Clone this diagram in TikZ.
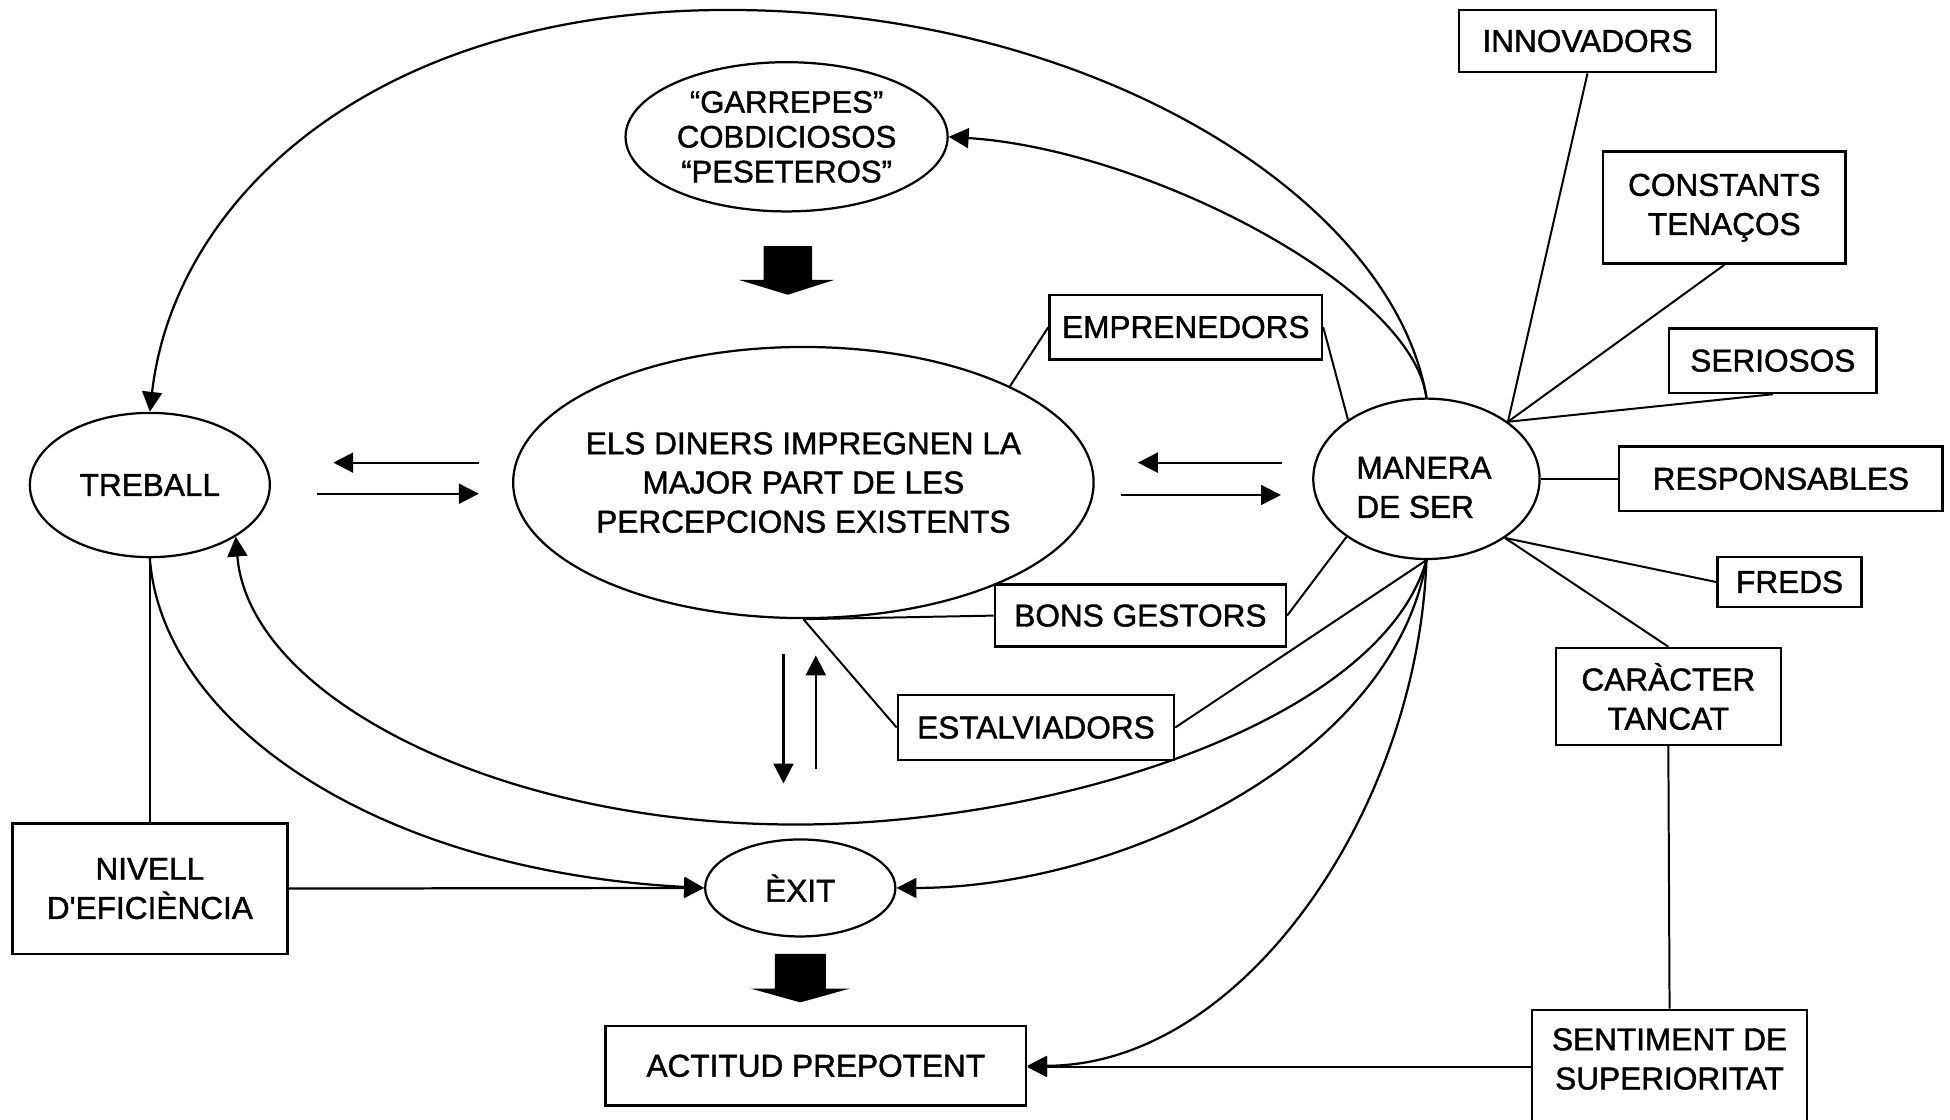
\documentclass[tikz,border=0pt]{standalone}
\usepackage{fontspec}
\setmainfont{Liberation Sans}[FakeBold=1.3]
\usetikzlibrary{arrows.meta,shapes.geometric}
\begin{document}
\begin{tikzpicture}[x=0.5pt,y=-0.5pt,
  every node/.style={font=\fontsize{12.7pt}{15.75pt}\selectfont, inner sep=0pt, align=center},
  ell/.style={draw, ellipse, line width=0.9pt},
  bx/.style={draw, rectangle, line width=1pt},
  ln/.style={line width=0.8pt},
  arr/.style={line width=0.9pt, -{Triangle[length=8pt,width=8pt]}},
  fat/.style={fill=black, draw=none}
]
\useasboundingbox (0,0) rectangle (1568,900);
\clip (0,0) rectangle (1568,900);
\fill[white] (0,0) rectangle (1568,900);

% ellipses
\node[ell, minimum width=129.5pt, minimum height=60pt, font=\fontsize{12.5pt}{14pt}\selectfont] (garr) at (632.5,110) {“GARREPES”\\COBDICIOSOS\\“PESETEROS”};
\node[ell, inner xsep=-5pt, minimum width=233pt, minimum height=109pt] (dn) at (646,388) {ELS DINERS IMPREGNEN LA\\MAJOR PART DE LES\\PERCEPCIONS EXISTENTS};
\node[ell, minimum width=96.5pt, minimum height=58pt] (treb) at (120.5,390) {TREBALL};
\node[ell, minimum width=91pt, minimum height=64.5pt] (man) at (1147,385) {};
\node[align=left] (mantxt) at (1145,392) {MANERA\\DE SER};
\node[ell, minimum width=76.5pt, minimum height=39pt] (exit) at (643.5,714) {ÈXIT};

% boxes
\node[bx, minimum width=103.5pt, minimum height=25pt] (innov) at (1276.5,33) {INNOVADORS};
\node[bx, minimum width=97.5pt, minimum height=45pt] (const) at (1386.5,167) {CONSTANTS\\TENAÇOS};
\node[bx, minimum width=83.5pt, minimum height=26pt] (seri) at (1425.5,290) {SERIOSOS};
\node[bx, minimum width=130pt, minimum height=26pt] (resp) at (1432,385) {RESPONSABLES};
\node[bx, minimum width=58pt, minimum height=20pt] (freds) at (1439,468) {FREDS};
\node[bx, minimum width=90.5pt, minimum height=39pt] (car) at (1341.5,560) {CARÀCTER\\TANCAT};
\node[bx, minimum width=110.5pt, minimum height=46pt] (sent) at (1342.5,858) {};
\node (senttxt) at (1342.5,851.5) {SENTIMENT DE\\SUPERIORITAT};
\node[bx, minimum width=109.5pt, minimum height=26pt] (emp) at (953.5,263) {EMPRENEDORS};
\node[bx, minimum width=117pt, minimum height=25pt] (bons) at (917,495) {BONS GESTORS};
\node[bx, minimum width=111pt, minimum height=26pt] (est) at (833,585) {ESTALVIADORS};
\node[bx, minimum width=110.5pt, minimum height=52.5pt] (niv) at (120.5,714.5) {NIVELL\\D\textquotesingle EFICIÈNCIA};
\node[bx, minimum width=169pt, minimum height=32pt] (act) at (656,857) {ACTITUD PREPOTENT};

% thick arrows
\fill[fat] (614,198) -- (653,198) -- (653,225) -- (671,225) -- (633.5,237) -- (594,225) -- (614,225) -- cycle;
\fill[fat] (623,767) -- (664,767) -- (664,795) -- (683,795) -- (643.5,806) -- (604,795) -- (623,795) -- cycle;

% small paired arrows
\coordinate (a1s) at (385,372); \coordinate (a1e) at (268,372);
\coordinate (a2s) at (255,397); \coordinate (a2e) at (385,397);
\coordinate (a3s) at (1031,372); \coordinate (a3e) at (915,372);
\coordinate (a4s) at (901,398); \coordinate (a4e) at (1030,398);
\coordinate (a5s) at (630,526); \coordinate (a5e) at (630,630);
\coordinate (a6s) at (656,618); \coordinate (a6e) at (656,527);
\draw[arr] (a1s) -- (a1e);
\draw[arr] (a2s) -- (a2e);
\draw[arr] (a3s) -- (a3e);
\draw[arr] (a4s) -- (a4e);
\draw[arr] (a5s) -- (a5e);
\draw[arr] (a6s) -- (a6e);

% plain connectors
\draw[ln] (treb.south) -- (niv.north);
\draw[ln] (emp.west) -- (dn.25);
\draw[ln] (emp.east) -- (man.143);
\draw[ln] (bons.west) -- (dn.south);
\draw[ln] (bons.east) -- (man.216);
\draw[ln] (est.west) -- (dn.south);
\draw[ln] (est.east) -- (man.south);
\draw[ln] (man.35) -- (innov.south);
\draw[ln] (man.35) -- (const.south);
\draw[ln] (man.35) -- (seri.south);
\draw[ln] (man.east) -- (resp.west);
\draw[ln] (man.-37) -- (freds.west);
\draw[ln] (man.-37) -- (car.north);
\draw[ln] (car.south) -- (sent.north);

% arrows between nodes
\draw[arr] (niv.east) -- (exit.west);
\draw[arr] (sent.west) -- (act.east |- sent.west);
\draw[arr] (treb.south) .. controls (130,580) and (300,700) .. (exit.west);

\coordinate (apex) at (585,8);
\coordinate (low) at (640,663);
\draw[arr] (man.north) .. controls (1120,160) and (880,8) .. (apex) .. controls (300,8) and (140,160) .. (treb.north);
\draw[arr] (man.north) .. controls (1135,230) and (920,120) .. (garr.east);
\draw[arr] (man.south) .. controls (1110,580) and (850,663) .. (low) .. controls (400,663) and (200,560) .. (treb.-31);
\draw[arr] (man.south) .. controls (1120,610) and (900,714) .. (exit.east);
\draw[arr] (man.south) .. controls (1140,650) and (1000,857) .. (act.east);
\end{tikzpicture}
\end{document}
